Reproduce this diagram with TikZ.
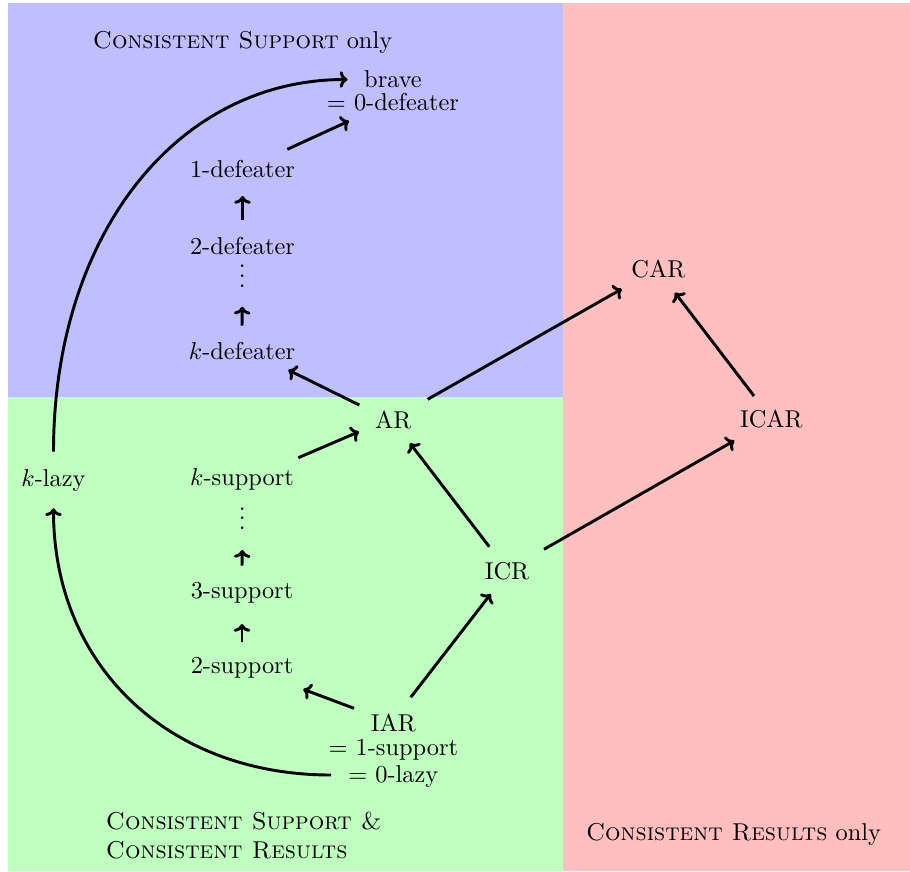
\documentclass[tikz,border=0pt]{standalone}
\usetikzlibrary{arrows.meta}
\begin{document}
\begin{tikzpicture}[x=0.41034pt,y=-0.41034pt,
  lbl/.style={inner sep=0pt, anchor=base},
  multi/.style={inner sep=0pt, anchor=north, align=center},
  arr/.style={-{Computer Modern Rightarrow[width=6.8pt,length=3.2pt]}, line width=1.2pt}]
\useasboundingbox (0,0) rectangle (910,871);
% regions
\fill[blue!25] (8,3.3) rectangle (563.3,396.7);
\fill[green!25] (8,396.7) rectangle (563.3,871);
\fill[red!25] (563.3,3.3) rectangle (910,871);
% region titles
\node[lbl] (tcs) at (242.5,48.3) {\textsc{Consistent Support} only};
\node[inner sep=0pt, anchor=north west, align=left] (tboth) at (105.5,811.7)
  {\textsc{Consistent Support \&}\\ \textsc{Consistent Results}};
\node[lbl] (tcr) at (733.5,840.7) {\textsc{Consistent Results} only};
% nodes
\node[multi] (brave) at (393,70.4) {brave\\[-2.7pt] $=$ 0-defeater};
\node[lbl] (def1) at (242.5,177.7) {1-defeater};
\node[lbl] (def2) at (242.5,254.3) {2-defeater};
\node[lbl] (vd1) at (242.3,287.3) {\smash{$\vdots$}};
\node[lbl] (kdef) at (242,359.3) {$k$-defeater};
\node[lbl] (ar) at (393.3,428.3) {AR};
\node[lbl] (car) at (658.3,277.3) {CAR};
\node[lbl] (icar) at (771.3,427.7) {ICAR};
\node[lbl] (klazy) at (53.5,486.7) {$k$-lazy};
\node[lbl] (ksup) at (242,485) {$k$-support};
\node[lbl] (vd2) at (242.3,529.6) {\smash{$\vdots$}};
\node[lbl] (icr) at (507,579.3) {ICR};
\node[lbl] (sup3) at (242,598.3) {3-support};
\node[lbl] (sup2) at (242,673.3) {2-support};
\node[multi] (iar) at (393.3,713.4) {IAR\\[-2pt] $=$ 1-support\\[-1pt] $=$ 0-lazy};
% arrows
\draw[arr] ([shift={(44.8,-28.4)}]def1.base) -- ([shift={(-44,50.6)}]brave.north);
\draw[arr] ([shift={(0,-34.3)}]def2.base) -- ([shift={(0,18.3)}]def1.base);
\draw[arr] ([shift={(0,-33.6)}]kdef.base) -- ([shift={(0,19.4)}]vd1.base);
\draw[arr] ([shift={(-34,-23.3)}]ar.base) -- ([shift={(46.3,10.7)}]kdef.base);
\draw[arr] ([shift={(34.4,-29)}]ar.base) -- ([shift={(-36.6,11.7)}]car.base);
\draw[arr] ([shift={(-17.3,-31.7)}]icar.base) -- ([shift={(16.7,15.4)}]car.base);
\draw[arr] ([shift={(37,-30)}]icr.base) -- ([shift={(-37,13)}]icar.base);
\draw[arr] ([shift={(-17.7,-32.6)}]icr.base) -- ([shift={(16.7,15)}]ar.base);
\draw[arr] ([shift={(56.3,-27.3)}]ksup.base) -- ([shift={(-34.3,3.4)}]ar.base);
\draw[arr] ([shift={(0,-32.6)}]sup3.base) -- ([shift={(0,20.4)}]vd2.base);
\draw[arr] ([shift={(0,-31.6)}]sup2.base) -- ([shift={(0,25.7)}]sup3.base);
\draw[arr] ([shift={(-39.3,-5.1)}]iar.north) -- ([shift={(61.3,16)}]sup2.base);
\draw[arr] ([shift={(17.4,-16.1)}]iar.north) -- ([shift={(-16.3,14.7)}]icr.base);
% curved arrows
\draw[arr] ([shift={(0,-35)}]klazy.base) .. controls +(0,-215) and +(-172,0) .. ([shift={(-45.5,9.1)}]brave.north);
\draw[arr] ([shift={(-62.3,61.6)}]iar.north) .. controls +(-163,0) and +(0,157) .. ([shift={(0,21.6)}]klazy.base);
\end{tikzpicture}
\end{document}
